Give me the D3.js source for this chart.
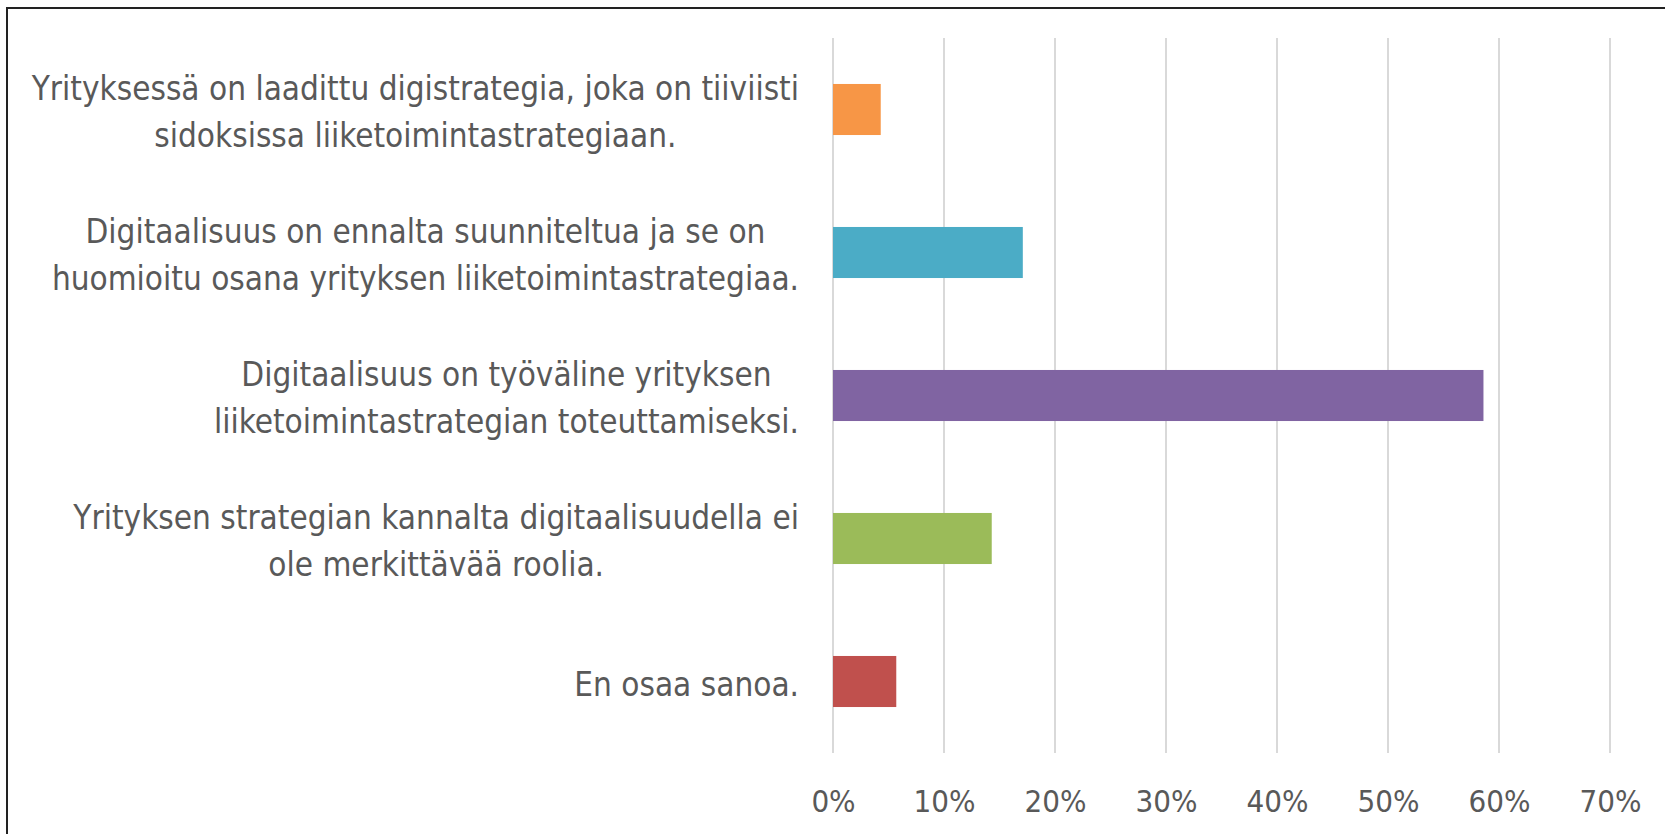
<!DOCTYPE html>
<html>
<head>
<meta charset="utf-8">
<script src="https://cdn.jsdelivr.net/npm/d3@7"></script>
<style>
  body { margin: 0; background: #fff; }
  svg { display: block; }
  .lbl, .tick text { font-family: 'Liberation Sans Narrow', 'DejaVu Sans Condensed', sans-serif; fill: #595959; }
</style>
</head>
<body>
<div id="vis"></div>
<script>
var categories = [
    'Yrityksessä on laadittu digistrategia, joka on tiiviisti\nsidoksissa liiketoimintastrategiaan.',
    'Digitaalisuus on ennalta suunniteltua ja se on\nhuomioitu osana yrityksen liiketoimintastrategiaa.',
    'Digitaalisuus on työväline yrityksen\nliiketoimintastrategian toteuttamiseksi.',
    'Yrityksen strategian kannalta digitaalisuudella ei\nole merkittävää roolia.',
    'En osaa sanoa.'
];
var values = [0.043, 0.171, 0.586, 0.143, 0.057];
var colors = ['#F79646', '#4BACC6', '#8064A2', '#9BBB59', '#C0504D'];
var ticks = [0, 0.1, 0.2, 0.3, 0.4, 0.5, 0.6, 0.7];

var width = 1665;
var height = 834;

var margin = { left: 833, right: 55, top: 38, bottom: 81 };
var drawWidth = width - margin.left - margin.right;
var drawHeight = height - margin.top - margin.bottom;

var svg = d3.select('#vis')
    .append('svg')
    .attr('width', width)
    .attr('height', height);

// outer frame (only left and top edges are in view)
svg.append('rect')
    .attr('x', 7)
    .attr('y', 8)
    .attr('width', width + 20)
    .attr('height', height + 20)
    .attr('fill', 'none')
    .attr('stroke', '#222')
    .attr('stroke-width', 2);

var g = svg.append('g')
    .attr('transform', 'translate(' + margin.left + ',' + margin.top + ')');

var xScale = d3.scaleLinear()
    .domain([0, 0.7])
    .range([0, drawWidth]);

var yScale = d3.scaleBand()
    .domain(categories)
    .range([0, drawHeight])
    .paddingInner(0.643)
    .paddingOuter(0.3215);

// gridlines
g.selectAll('.grid')
    .data(ticks)
    .enter().append('line')
    .attr('class', 'grid')
    .attr('x1', function(d) { return xScale(d); })
    .attr('x2', function(d) { return xScale(d); })
    .attr('y1', 0)
    .attr('y2', drawHeight)
    .attr('stroke', '#d9d9d9')
    .attr('stroke-width', 2);

// x axis labels
var xAxis = d3.axisBottom(xScale)
    .tickValues(ticks)
    .tickFormat(d3.format('.0%'))
    .tickSize(0)
    .tickPadding(37);

var xAxisG = g.append('g')
    .attr('transform', 'translate(0,' + drawHeight + ')')
    .call(xAxis);
xAxisG.select('.domain').remove();
xAxisG.selectAll('text')
    .style('font-size', '31px')
    .style('font-family', "'Liberation Sans Narrow', 'DejaVu Sans Condensed', sans-serif")
    .attr('fill', '#595959');

// bars
g.selectAll('.bar')
    .data(values)
    .enter().append('rect')
    .attr('class', 'bar')
    .attr('x', xScale(0))
    .attr('y', function(d, i) { return yScale(categories[i]); })
    .attr('width', function(d) { return xScale(d) - xScale(0); })
    .attr('height', yScale.bandwidth())
    .attr('fill', function(d, i) { return colors[i]; });

// category labels: lines centred on each other, block right-aligned
var lineH = 46.5;
var labelRight = 799;
categories.forEach(function(c) {
    var lines = c.split('\n');
    var cy = yScale(c) + yScale.bandwidth() / 2;
    var t = svg.append('text')
        .attr('class', 'lbl')
        .attr('text-anchor', 'middle')
        .style('font-size', '33px');
    var spans = lines.map(function(l, j) {
        return t.append('tspan')
            .attr('y', margin.top + cy + (j - (lines.length - 1) / 2) * lineH + 14)
            .text(l);
    });
    var maxW = d3.max(spans, function(s) { return s.node().getComputedTextLength(); });
    spans.forEach(function(s) { s.attr('x', labelRight - maxW / 2); });
});
</script>
</body>
</html>
